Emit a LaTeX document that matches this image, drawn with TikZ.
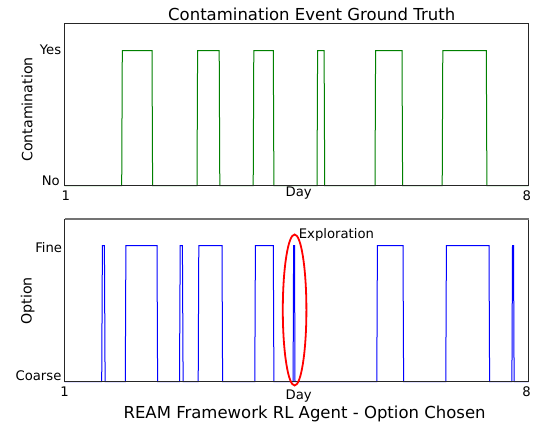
\documentclass[tikz,border=0pt]{standalone}
\usepackage{fontspec}
\setmainfont{DejaVu Sans}
\definecolor{mplgreen}{rgb}{0,0.5,0}
\definecolor{mplblue}{rgb}{0,0,1}
\begin{document}
\begin{tikzpicture}[x=1pt,y=-1pt,
  lbl/.style={inner sep=0pt, font=\fontsize{13.2}{15}\selectfont},
  ylbl/.style={inner sep=0pt, rotate=90, anchor=base, font=\fontsize{14.2}{16}\selectfont},
  big/.style={inner sep=0pt, font=\fontsize{16.5}{19}\selectfont},
  frame/.style={draw=black!85, line width=1pt},
  gline/.style={draw=mplgreen, line width=1pt},
  bline/.style={draw=mplblue, line width=1pt},
  explo/.style={draw=red, line width=1.8pt},
]
\useasboundingbox (0,0) rectangle (533,423);
\fill[white] (0,0) rectangle (533,423);

% ---------- top panel ----------
\draw[gline] (64.5,185.5) -- (121.7,185.5) -- (122.3,50.5) -- (152,50.5) -- (152.6,185.5)
  -- (197,185.5) -- (197.6,50.5) -- (219.2,50.5) -- (219.8,185.5)
  -- (253.2,185.5) -- (253.8,50.5) -- (273.3,50.5) -- (273.9,185.5)
  -- (317,185.5) -- (317.6,50.5) -- (324.1,50.5) -- (324.7,185.5)
  -- (375,185.5) -- (375.6,50.5) -- (402,50.5) -- (402.6,185.5)
  -- (442.2,185.5) -- (442.8,50.5) -- (486.3,50.5) -- (486.9,185.5)
  -- (528.5,185.5);
\draw[frame] (64.5,23.5) rectangle (528.5,185.5);

\node[big, anchor=base west] (title) at (168,20) {Contamination Event Ground Truth};
\node[lbl, anchor=base east] (yes) at (61.4,54.3) {Yes};
\node[lbl, anchor=base east] (no) at (60,185) {No};
\node[lbl, anchor=base] (t1a) at (65.7,200.5) {1};
\node[lbl, anchor=base] (t8a) at (526.8,200) {8};
\node[lbl, anchor=base] (daya) at (298.7,196.2) {Day};
\node[ylbl] (contam) at (32.3,109.5) {Contamination};

% ---------- bottom panel ----------
\draw[bline] (64.5,381.5) -- (101.7,381.5) -- (102.4,245.5) -- (104.4,245.5) -- (105.1,381.5)
  -- (125.3,381.5) -- (125.9,245.5) -- (157,245.5) -- (157.6,381.5)
  -- (179.5,381.5) -- (180.2,245.5) -- (182.4,245.5) -- (183.1,381.5)
  -- (198.2,381.5) -- (198.8,245.5) -- (222,245.5) -- (222.6,381.5)
  -- (254.8,381.5) -- (255.4,245.5) -- (273.3,245.5) -- (273.9,381.5)
  -- (293.1,381.5) -- (293.6,245.5) -- (294.5,245.5) -- (295,381.5)
  -- (376.8,381.5) -- (377.4,245.5) -- (403,245.5) -- (403.6,381.5)
  -- (445.8,381.5) -- (446.4,245.5) -- (489,245.5) -- (489.6,381.5)
  -- (511.9,381.5) -- (512.5,245.5) -- (513.5,245.5) -- (514.1,381.5)
  -- (528.5,381.5);
\draw[frame] (64.5,219) rectangle (528.5,381.5);
\draw[draw=black!55, line width=2pt] (64.5,219) -- (528.5,219);

\draw[explo] (294.6,310) ellipse [x radius=11.8, y radius=75.5];
\node[lbl, anchor=base west] (explab) at (298.7,238.3) {Exploration};

\node[lbl, anchor=base east] (fine) at (62.3,252.5) {Fine};
\node[lbl, anchor=base east] (coarse) at (61.6,380.5) {Coarse};
\node[lbl, anchor=base] (t1b) at (64.5,396.5) {1};
\node[lbl, anchor=base] (t8b) at (526.5,396.5) {8};
\node[lbl, anchor=base] (dayb) at (298.7,399.5) {Day};
\node[ylbl] (option) at (31.5,300.8) {Option};
\node[big, anchor=base west] (caption) at (123.4,418.3) {REAM Framework RL Agent - Option Chosen};
\end{tikzpicture}
\end{document}
